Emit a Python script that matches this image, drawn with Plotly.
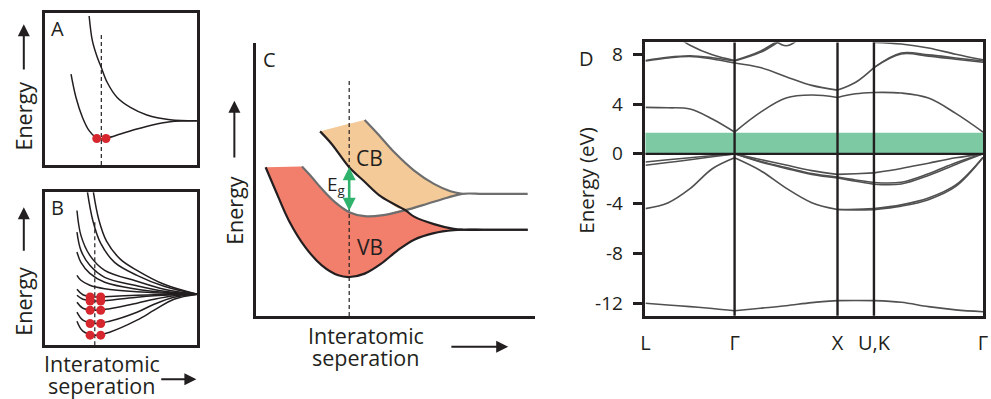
import plotly.graph_objects as go

W, H = 991, 399
INK = "#231f20"
FONT = "Open Sans"
RED_DOT = "#d6262e"
VB_FILL = "#f27e6c"
CB_FILL = "#f4ca98"
EDGE_GRAY = "#6e6e6e"
GAP_GREEN = "#7dc9a3"
ARROW_GREEN = "#2fb36c"
BAND_GRAY = "#505050"

# ---------------- Panel A: two atoms (arbitrary units) ----------------
A_ANTI_R = [4.43, 4.76, 5.26, 5.66, 6.26, 7.26, 8.6, 10.26, 12.6, 15.36]
A_ANTI_E = [14.93, 12.43, 10.76, 9.76, 8.26, 6.76, 5.76, 5.0, 4.53, 4.43]
A_BOND_R = [2.6, 3.1, 3.76, 4.43, 5.1, 5.66, 6.26, 7.6, 9.26, 10.93, 12.6, 15.36]
A_BOND_E = [9.1, 6.76, 4.76, 3.43, 2.76, 2.6, 2.7, 3.1, 3.6, 4.03, 4.33, 4.43]
A_EQ_R = 5.66
A_DASH_TOP = 13.26
A_ELECTRON_R = [5.2, 6.13]
A_ELECTRON_E = [2.65, 2.65]

# ---------------- Panel B: many atoms ----------------
B_ANTI_R = [
    [4.26, 4.8, 5.6, 7.0, 9.26, 12.0, 15.36],
    [4.86, 5.4, 6.2, 7.6, 9.26, 12.0, 15.36],
    [3.2, 3.6, 4.5, 6.0, 9.26, 12.0, 15.36],
    [3.2, 3.6, 4.5, 6.0, 9.26, 12.0, 15.36],
    [3.2, 3.6, 4.5, 6.0, 9.26, 12.0, 15.36],
    [3.2, 3.6, 4.5, 6.0, 9.26, 15.36],
]
B_ANTI_E = [
    [15.33, 12.5, 10.2, 8.3, 7.0, 5.9, 5.1],
    [15.33, 12.6, 10.4, 8.6, 7.5, 6.1, 5.1],
    [13.5, 11.0, 9.0, 7.5, 6.4, 5.6, 5.1],
    [11.33, 9.5, 8.0, 6.8, 5.95, 5.4, 5.1],
    [9.33, 8.3, 7.2, 6.3, 5.6, 5.3, 5.1],
    [7.0, 6.5, 6.0, 5.65, 5.35, 5.1],
]
B_BOND_R = [3.2, 3.8, 5.07, 6.5, 9.26, 11.0, 13.0, 15.36]
B_BOND_E = [
    [5.6, 5.05, 4.83, 4.88, 5.0, 5.05, 5.1, 5.1],
    [5.0, 4.6, 4.43, 4.5, 4.8, 4.95, 5.05, 5.1],
    [4.3, 3.7, 3.5, 3.65, 4.2, 4.6, 4.95, 5.1],
    [3.3, 2.5, 2.17, 2.4, 3.3, 4.1, 4.8, 5.1],
    [2.4, 1.4, 1.0, 1.3, 2.5, 3.5, 4.6, 5.1],
]
B_EQ_R = 5.0
B_DASH_TOP = 12.5
B_ELECTRON_R = [4.53, 5.6]
B_ELECTRON_E = [4.83, 4.43, 3.5, 2.17, 1.0]

# ---------------- Panel C: band formation ----------------
C_VB_LOW_R = [1.0, 2.0, 3.34, 5.0, 6.67, 8.34, 9.5, 11.0, 12.67, 14.34, 16.0, 18.0, 20.0, 21.0, 23.0, 27.47]
C_VB_LOW_E = [14.9, 12.57, 9.57, 6.9, 5.07, 4.07, 3.9, 4.24, 5.24, 6.57, 7.64, 8.3, 8.6, 8.64, 8.64, 8.64]
C_VB_TOP_R = [4.67, 5.67, 6.67, 8.0, 9.44, 11.0, 12.67, 15.1, 17.34, 19.34, 20.84, 23.0, 27.47]
C_VB_TOP_E = [14.97, 13.9, 12.74, 11.4, 10.4, 10.0, 10.07, 10.6, 11.24, 11.84, 12.24, 12.24, 12.24]
C_VB_SHELF_R = [1.0, 4.45]         # flat top-left edge of the valence band
C_VB_SHELF_E = [14.9, 14.97]
C_CB_LOW_R = [6.5, 7.67, 9.44, 11.0, 12.67, 15.1, 16.0, 18.0, 20.0, 21.0, 23.0, 27.47]
C_CB_LOW_E = [18.5, 17.24, 14.9, 13.45, 11.95, 10.6, 9.95, 9.2, 8.72, 8.64, 8.64, 8.64]
C_CB_SHELF_R = [6.5, 10.75]        # straight top-left edge of the conduction band
C_CB_SHELF_E = [18.5, 19.58]
C_CB_TOP_R = [11.0, 12.34, 14.0, 16.0, 18.0, 19.67, 20.84]
C_CB_TOP_E = [19.64, 18.24, 16.4, 14.57, 13.24, 12.5, 12.24]
C_CROSS_R = 15.1
C_MERGE_R = 21.0
C_EQ_R = 9.44
C_DASH_TOP = 23.57
C_GAP = (14.9, 10.4)  # CB bottom and VB top at equilibrium

# ---------------- Panel D: band structure ----------------
K_LABELS = ["L", "Γ", "X", "U,K", "Γ"]
K_TICKS = [0.0, 0.866, 1.866, 2.220, 3.280]
K = [0.0, 0.2165, 0.433, 0.6495, 0.866, 1.116, 1.366, 1.616, 1.866,
     2.043, 2.220, 2.485, 2.750, 3.015, 3.280]
Y_TICKS = [-12, -8, -4, 0, 4, 8]
Y_TICK_TEXT = ["-12", "-8", "-4", "0", "4", "8"]
GAP_EV = 1.7

N = None
BAND_S = [-12.0, -12.14, -12.27, -12.42, -12.6, -12.4, -12.2, -11.95, -11.79, -11.78, -11.79, -11.92, -12.27, -12.53, -12.68]
BAND_V2 = [-4.4, -3.95, -2.8, -1.2, -0.32, -1.34, -2.75, -3.92, -4.47, -4.45, -4.4, -4.1, -3.55, -2.5, -0.27]
BAND_V2B = [N, N, N, N, N, N, N, N, -4.47, -4.5, -4.48, -4.2, -3.68, -2.62, -0.3]
BAND_V3 = [-0.65, -0.48, -0.32, -0.15, 0.0, -0.45, -0.9, -1.35, -1.65, -1.6, -1.53, -1.18, -0.75, -0.32, 0.0]
BAND_V4 = [-0.92, -0.7, -0.47, -0.23, 0.0, -0.6, -1.1, -1.58, -1.87, -2.1, -2.3, -2.28, -1.6, -0.72, 0.0]
BAND_V4B = [N, N, N, N, 0.0, -0.65, -1.17, -1.65, -1.93, -2.2, -2.44, -2.42, -1.74, -0.85, 0.0]
BAND_C1 = [3.73, 3.7, 3.6, 2.8, 1.75, 3.33, 4.48, 4.72, 4.53, 4.82, 4.93, 4.88, 4.48, 3.25, 1.75]
BAND_C2 = [7.45, 7.7, 7.82, 7.62, 7.3, 6.93, 6.2, 5.5, 5.12, 5.75, 6.93, 8.1, 7.95, 7.7, 7.45]
BAND_C2B = [7.5, 7.76, 7.88, 7.72, 7.45, 8.15, 9.3, 10.0, 10.5, N, N, N, N, N, N]
BAND_C3 = [11.0, 9.9, 8.72, 7.95, 7.5, 8.25, 9.4, 10.0, 10.5, 10.0, 8.95, 8.82, 8.5, 8.0, 7.55]
BAND_C4 = [N, N, N, N, 11.0, 10.0, 8.68, 10.0, 11.0, N, N, N, N, N, N]
BAND_C5 = [N, N, N, N, N, N, N, N, N, N, 6.93, 8.02, 7.85, 7.6, 7.35]
BANDS = [BAND_S, BAND_V2, BAND_V2B, BAND_V3, BAND_V4, BAND_V4B,
         BAND_C1, BAND_C2, BAND_C2B, BAND_C3, BAND_C4, BAND_C5]


def dom_x(left, right):
    return [left / W, right / W]


def dom_y(top, bottom):
    return [1 - bottom / H, 1 - top / H]


fig = go.Figure()


def curve(xs, ys, ax, color=INK, width=1.5, dash=None, fill=None, fillcolor=None):
    fig.add_trace(go.Scatter(
        x=xs, y=ys, xaxis=ax[0], yaxis=ax[1], mode="lines",
        line=dict(color=color, width=width, shape="spline", smoothing=1.0, dash=dash),
        fill=fill, fillcolor=fillcolor, hoverinfo="skip", showlegend=False))


def dots(xs, ys, ax):
    fig.add_trace(go.Scatter(
        x=xs, y=ys, xaxis=ax[0], yaxis=ax[1], mode="markers",
        marker=dict(color=RED_DOT, size=9, line=dict(width=0)),
        hoverinfo="skip", showlegend=False))


AX_A, AX_B, AX_C, AX_D = ("x", "y"), ("x2", "y2"), ("x3", "y3"), ("x4", "y4")

# ----- A -----
curve(A_ANTI_R, A_ANTI_E, AX_A)
curve(A_BOND_R, A_BOND_E, AX_A)
curve([A_EQ_R, A_EQ_R], [0, A_DASH_TOP], AX_A, width=1.2, dash="4px,3px")
dots(A_ELECTRON_R, A_ELECTRON_E, AX_A)

# ----- B -----
for rs, es in zip(B_ANTI_R, B_ANTI_E):
    curve(rs, es, AX_B)
for es in B_BOND_E:
    curve(B_BOND_R, es, AX_B)
curve([B_EQ_R, B_EQ_R], [0, B_DASH_TOP], AX_B, width=1.2, dash="4px,3px")
for e in B_ELECTRON_E:
    dots(B_ELECTRON_R, [e, e], AX_B)


# ----- C -----
def part(rs, es, lo=-1e9, hi=1e9):
    pts = [(r, e) for r, e in zip(rs, es) if lo <= r <= hi]
    return [p[0] for p in pts], [p[1] for p in pts]


# orange conduction band: bounded by CB top and the lower of (CB bottom | VB top)
cb_lo_r1, cb_lo_e1 = part(C_CB_LOW_R, C_CB_LOW_E, hi=C_CROSS_R)
cb_lo_r2, cb_lo_e2 = part(C_VB_TOP_R, C_VB_TOP_E, lo=C_CROSS_R + 1e-6, hi=C_CB_TOP_R[-1])
curve(cb_lo_r1 + cb_lo_r2, cb_lo_e1 + cb_lo_e2, AX_C, width=0)
curve(C_CB_SHELF_R + C_CB_TOP_R, C_CB_SHELF_E + C_CB_TOP_E, AX_C, width=0,
      fill="tonexty", fillcolor=CB_FILL)

# red valence band: bounded by VB bottom and the lower of (VB top | CB bottom)
vb_lo_r, vb_lo_e = part(C_VB_LOW_R, C_VB_LOW_E, hi=C_MERGE_R)
curve(vb_lo_r, vb_lo_e, AX_C, width=0)
vb_up_r1, vb_up_e1 = part(C_VB_TOP_R, C_VB_TOP_E, hi=C_CROSS_R)
vb_up_r2, vb_up_e2 = part(C_CB_LOW_R, C_CB_LOW_E, lo=C_CROSS_R + 1e-6, hi=C_MERGE_R)
curve(C_VB_SHELF_R + vb_up_r1 + vb_up_r2, C_VB_SHELF_E + vb_up_e1 + vb_up_e2,
      AX_C, width=0, fill="tonexty", fillcolor=VB_FILL)

# band edges
curve(C_CB_TOP_R, C_CB_TOP_E, AX_C, color=EDGE_GRAY, width=2.2)
curve(C_VB_TOP_R, C_VB_TOP_E, AX_C, color=EDGE_GRAY, width=2.2)
curve(C_CB_LOW_R, C_CB_LOW_E, AX_C, color=INK, width=2.2)
curve(C_VB_LOW_R, C_VB_LOW_E, AX_C, color=INK, width=2.2)
curve([C_EQ_R, C_EQ_R], [0, C_DASH_TOP], AX_C, width=1.2, dash="4px,3px")

fig.add_annotation(x=C_EQ_R, y=C_GAP[0], ax=C_EQ_R, ay=C_GAP[1], xref="x3", yref="y3",
                   axref="x3", ayref="y3", text="", showarrow=True, arrowhead=2,
                   arrowside="end+start", arrowsize=1.0, arrowwidth=2.6, arrowcolor=ARROW_GREEN)
fig.add_annotation(x=8.1, y=13.17, xref="x3", yref="y3", text="E<sub>g</sub>", showarrow=False,
                   font=dict(family=FONT, size=19, color=INK))
fig.add_annotation(x=11.5, y=15.84, xref="x3", yref="y3", text="CB", showarrow=False,
                   font=dict(family=FONT, size=21, color=INK))
fig.add_annotation(x=11.5, y=6.9, xref="x3", yref="y3", text="VB", showarrow=False,
                   font=dict(family=FONT, size=21, color=INK))

# ----- D -----
seg_idx = [K.index(t) for t in K_TICKS]
for band in BANDS:
    for a, b in zip(seg_idx[:-1], seg_idx[1:]):
        vals = band[a:b + 1]
        if any(v is None for v in vals):
            continue
        curve(K[a:b + 1], vals, AX_D, color=BAND_GRAY, width=1.6)

fig.add_shape(type="rect", xref="x4 domain", yref="y4", x0=0, x1=1, y0=0, y1=GAP_EV,
              fillcolor=GAP_GREEN, line=dict(width=0), layer="below")
fig.add_shape(type="line", xref="x4 domain", yref="y4", x0=0, x1=1, y0=0, y1=0,
              line=dict(color=INK, width=2.4), layer="above")
for kt in K_TICKS[1:-1]:
    fig.add_shape(type="line", xref="x4", yref="y4 domain", x0=kt, x1=kt, y0=0, y1=1,
                  line=dict(color=INK, width=2.4), layer="above")

# ----- axes -----
plain = dict(showgrid=False, zeroline=False, showticklabels=False, ticks="",
             showline=True, linewidth=2.5, linecolor=INK, fixedrange=True)
box = dict(plain, mirror=True)

fig.update_layout(
    width=W, height=H, margin=dict(l=0, r=0, t=0, b=0),
    paper_bgcolor="white", plot_bgcolor="white", showlegend=False,
    font=dict(family=FONT, color=INK),
    xaxis=dict(box, domain=dom_x(40.7, 194.3), range=[0, 15.36], anchor="y"),
    yaxis=dict(box, domain=dom_y(11.7, 164.3), range=[0, 15.26], anchor="x"),
    xaxis2=dict(box, domain=dom_x(40.7, 194.3), range=[0, 15.36], anchor="y2"),
    yaxis2=dict(box, domain=dom_y(191.7, 345.0), range=[0, 15.33], anchor="x2"),
    xaxis3=dict(plain, domain=dom_x(253.3, 535.0), range=[0, 28.17], anchor="y3"),
    yaxis3=dict(plain, domain=dom_y(41.7, 315.7), range=[0, 27.4], anchor="x3"),
    xaxis4=dict(box, domain=dom_x(647.0, 988.0), range=[0, K_TICKS[-1]], anchor="y4",
                showticklabels=True, tickvals=K_TICKS, ticktext=K_LABELS,
                tickfont=dict(family=FONT, size=20, color=INK),
                ticklabelstandoff=8, ticklabeloverflow="allow"),
    yaxis4=dict(box, domain=dom_y(41.5, 315.5), range=[-13.0, 8.95], anchor="x4",
                showticklabels=True, tickvals=Y_TICKS, ticktext=Y_TICK_TEXT,
                ticks="outside", ticklen=10, tickwidth=2.5, tickcolor=INK,
                tickfont=dict(family=FONT, size=19, color=INK), ticklabelstandoff=6),
)


# ----- text and arrows placed on the page -----
def note(text, px, py, size=21.5, angle=0):
    fig.add_annotation(text=text, x=px / W, y=1 - py / H, xref="paper", yref="paper",
                       showarrow=False, textangle=angle, xanchor="center", yanchor="middle",
                       font=dict(family=FONT, size=size, color=INK))


def arrow(tip, tail):
    fig.add_annotation(text="", x=tip[0] / W, y=1 - tip[1] / H, xref="paper", yref="paper",
                       ax=tail[0] - tip[0], ay=tail[1] - tip[1], showarrow=True,
                       arrowhead=2, arrowsize=1.2, arrowwidth=2, arrowcolor=INK)


note("A", 53.3, 27.5, size=20)
note("B", 53.3, 207.5, size=20)
note("C", 266.7, 58.3, size=20)
note("D", 587.0, 57.5, size=20)

note("Energy", 19, 115, angle=-90)
arrow((19, 23.3), (19, 70))
note("Energy", 19, 300.7, angle=-90)
arrow((19, 206.7), (19, 251.7))
note("Interatomic", 97.5, 363.5)
note("seperation", 97.5, 385.5)
arrow((193.3, 379.3), (156.7, 379.3))

note("Energy", 231.7, 210, angle=-90)
arrow((231.7, 100), (231.7, 158.3))
note("Interatomic", 364.5, 335)
note("seperation", 364.5, 357.5)
arrow((508.3, 346.7), (450, 346.7))

note("Energy (eV)", 586, 180, size=20.5, angle=-90)

fig.write_html("out.html")
